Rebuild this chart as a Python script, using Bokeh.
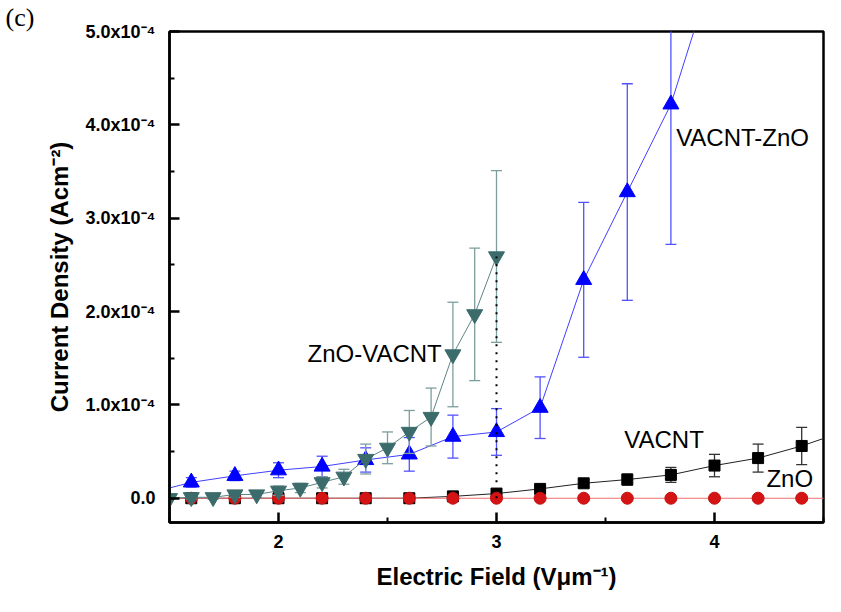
from bokeh.plotting import figure
from bokeh.models import Range1d, FixedTicker, CustomJSTickFormatter, Label, Title
from bokeh.embed import file_html
from bokeh.resources import INLINE

# ---------------- data (current density in units of 1e-4 A/cm^2) ----------------
vacnt_x = [1.4, 1.6, 1.8, 2.0, 2.2, 2.4, 2.6, 2.8, 3.0, 3.2, 3.4, 3.6, 3.8, 4.0, 4.2, 4.4, 4.6]
vacnt_y = [0.0, 0.0, 0.0, 0.0, 0.0, 0.0, 0.0, 0.02, 0.05, 0.10, 0.16, 0.20, 0.25, 0.35, 0.43, 0.56, 0.72]
vacnt_e = [0.0, 0.01, 0.01, 0.01, 0.01, 0.01, 0.01, 0.01, 0.02, 0.02, 0.04, 0.06, 0.08, 0.12, 0.15, 0.20, 0.20]

zno_x = [1.4, 1.6, 1.8, 2.0, 2.2, 2.4, 2.6, 2.8, 3.0, 3.2, 3.4, 3.6, 3.8, 4.0, 4.2, 4.4, 4.6]
zno_y = [0.0, 0.0, 0.0, 0.0, 0.0, 0.0, 0.0, 0.0, 0.0, 0.0, 0.0, 0.0, 0.0, 0.0, 0.0, 0.0, 0.0]

vz_x = [1.4, 1.6, 1.8, 2.0, 2.2, 2.4, 2.6, 2.8, 3.0, 3.2, 3.4, 3.6, 3.8, 4.0]
vz_y = [0.05, 0.17, 0.24, 0.30, 0.34, 0.41, 0.47, 0.66, 0.71, 0.97, 2.34, 3.28, 4.22, 5.70]
vz_e = [0.04, 0.05, 0.05, 0.08, 0.11, 0.13, 0.18, 0.23, 0.25, 0.33, 0.83, 1.16, 1.50, 0.60]

zv_x = [1.5, 1.6, 1.7, 1.8, 1.9, 2.0, 2.1, 2.2, 2.3, 2.4, 2.5, 2.6, 2.7, 2.8, 2.9, 3.0]
zv_y = [0.0, 0.01, 0.01, 0.04, 0.04, 0.08, 0.11, 0.17, 0.23, 0.42, 0.54, 0.71, 0.87, 1.54, 1.97, 2.59]
zv_e = [0.01, 0.02, 0.02, 0.03, 0.03, 0.05, 0.05, 0.06, 0.08, 0.16, 0.17, 0.23, 0.31, 0.56, 0.71, 0.92]

UNIT = 1e-4
x_ticks = [2, 3, 4]
x_minor = [1.5, 2.5, 3.5, 4.5]
y_ticks = [0.0, 1e-4, 2e-4, 3e-4, 4e-4, 5e-4]
y_minor = [0.5e-4, 1.5e-4, 2.5e-4, 3.5e-4, 4.5e-4]

FONT = "Liberation Sans"

p = figure(width=825, height=596, x_range=Range1d(1.5, 4.5), y_range=Range1d(-0.26e-4, 5.0e-4),
           output_backend="svg", toolbar_location=None,
           min_border_left=169, min_border_right=2, min_border_top=31, min_border_bottom=74)
p.title = Title(text="(c)", align="left", offset=-164, standoff=0,
                text_font="Liberation Serif", text_font_size="26px", text_font_style="normal",
                text_color="black", text_line_height=1.0)
p.xgrid.visible = False
p.ygrid.visible = False
p.outline_line_color = "black"
p.outline_line_width = 2.5
p.background_fill_color = "white"
p.border_fill_color = "white"

for ax in (p.xaxis[0], p.yaxis[0]):
    ax.axis_line_width = 2.5
    ax.major_tick_line_width = 2.5
    ax.minor_tick_line_width = 2
    ax.major_tick_in = 10
    ax.major_tick_out = 0
    ax.minor_tick_in = 5
    ax.minor_tick_out = 0
    ax.major_label_text_font = FONT
    ax.major_label_text_font_style = "bold"
    ax.major_label_text_font_size = "18px"
    ax.major_label_text_color = "black"
    ax.axis_label_text_font = FONT
    ax.axis_label_text_font_style = "bold"
    ax.axis_label_text_font_size = "24px"
    ax.axis_label_text_color = "black"

p.xaxis.ticker = FixedTicker(ticks=x_ticks, minor_ticks=x_minor)
p.yaxis.ticker = FixedTicker(ticks=y_ticks, minor_ticks=y_minor)
p.xaxis.major_label_standoff = 12
p.yaxis.major_label_standoff = 14
p.xaxis.axis_label_standoff = 12
p.yaxis.axis_label_standoff = 10
p.xaxis.axis_label = "Electric Field (V\u03bcm\u207b\u00b9)"
p.yaxis.axis_label = "Current Density (Acm\u207b\u00b2)"
p.yaxis.formatter = CustomJSTickFormatter(code="""
    if (Math.abs(tick) < 1e-12) return "0.0";
    return (tick / 1e-4).toFixed(1) + "x10\u207b\u2074";
""")


def scaled(vals):
    return [v * UNIT for v in vals]


def errbars(xs, ys, es, color):
    lo = [(y - e) * UNIT for y, e in zip(ys, es)]
    hi = [(y + e) * UNIT for y, e in zip(ys, es)]
    p.segment(x0=xs, y0=lo, x1=xs, y1=hi, line_color=color, line_width=1.3)
    p.scatter(x=xs, y=lo, marker="dash", size=11, line_color=color, line_width=1.3)
    p.scatter(x=xs, y=hi, marker="dash", size=11, line_color=color, line_width=1.3)


# VACNT (black squares)
p.line(vacnt_x, scaled(vacnt_y), line_color="#222222", line_width=1)
errbars(vacnt_x, vacnt_y, vacnt_e, "#333333")
p.scatter(vacnt_x, scaled(vacnt_y), marker="square", size=11, fill_color="black", line_color="black")

# ZnO (red circles)
p.line(zno_x, scaled(zno_y), line_color="#f07070", line_width=1.2)
p.scatter(zno_x, scaled(zno_y), marker="circle", size=12, fill_color="#d41414", line_color="#c81010")

# VACNT-ZnO (blue up triangles)
p.line(vz_x, scaled(vz_y), line_color="#4040ff", line_width=1)
errbars(vz_x, vz_y, vz_e, "#5252ff")
p.scatter(vz_x, scaled(vz_y), marker="triangle", size=16, fill_color="#0000ff", line_color="#0000ff")

# ZnO-VACNT (teal down triangles)
p.line(zv_x, scaled(zv_y), line_color="#5d8585", line_width=1)
errbars(zv_x, zv_y, zv_e, "#7c9e9e")
p.scatter(zv_x, scaled(zv_y), marker="inverted_triangle", size=16, fill_color="#3b6b6b", line_color="#3b6b6b")

# dotted drop line at the last ZnO-VACNT point
p.line([zv_x[-1], zv_x[-1]], [0.0, zv_y[-1] * UNIT], line_color="black", line_width=2, line_dash="2 6")

# series labels
for txt, lx, ly in [("VACNT-ZnO", 3.824, 3.86e-4), ("ZnO-VACNT", 2.133, 1.55e-4),
                    ("VACNT", 3.586, 0.63e-4), ("ZnO", 4.238, 0.21e-4)]:
    p.add_layout(Label(x=lx, y=ly, text=txt, text_font=FONT, text_font_size="24px",
                       text_color="black", text_baseline="middle", text_align="left"))

open("out.html", "w").write(file_html(p, INLINE))
